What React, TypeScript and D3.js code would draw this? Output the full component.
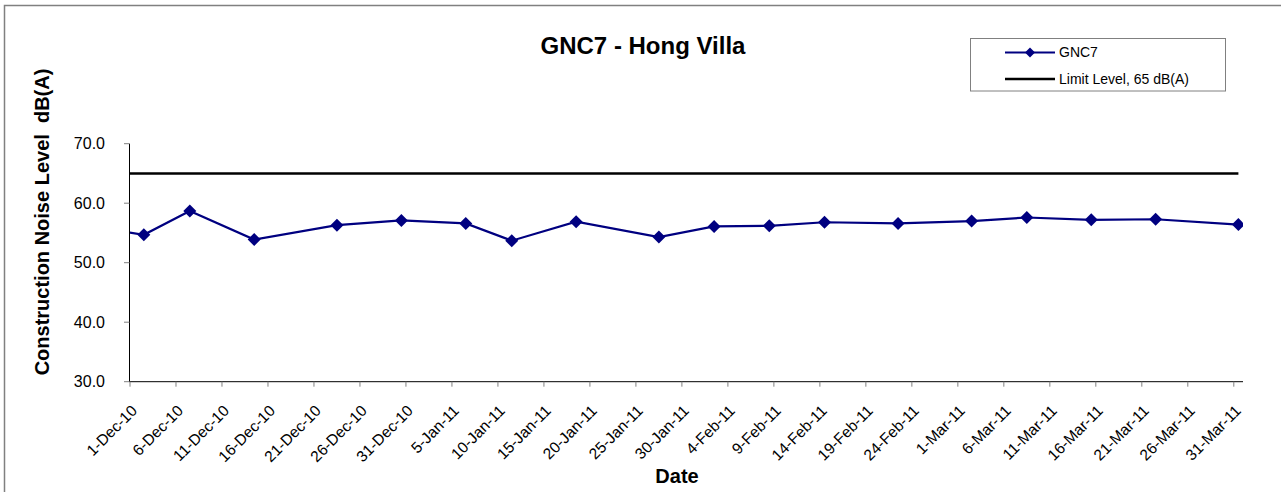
import React from "react";
import * as d3 from "d3";

const chartTitle = "GNC7 - Hong Villa";
const yAxisTitle = "Construction Noise Level  dB(A)";
const xAxisTitle = "Date";
const seriesName = "GNC7";
const limitName = "Limit Level, 65 dB(A)";
const limitValue = 65;

const dates = [
  "29-Nov-10", "2-Dec-10", "7-Dec-10", "14-Dec-10", "23-Dec-10", "30-Dec-10",
  "6-Jan-11", "11-Jan-11", "18-Jan-11", "27-Jan-11", "2-Feb-11", "8-Feb-11",
  "14-Feb-11", "22-Feb-11", "2-Mar-11", "8-Mar-11", "15-Mar-11", "22-Mar-11", "31-Mar-11",
];
const values = [
  55.4, 54.7, 58.7, 53.9, 56.3, 57.1,
  56.6, 53.7, 56.9, 54.3, 56.1, 56.2,
  56.8, 56.6, 57.0, 57.6, 57.2, 57.3, 56.4,
];

const xTickLabels = [
  "1-Dec-10", "6-Dec-10", "11-Dec-10", "16-Dec-10", "21-Dec-10", "26-Dec-10", "31-Dec-10",
  "5-Jan-11", "10-Jan-11", "15-Jan-11", "20-Jan-11", "25-Jan-11", "30-Jan-11",
  "4-Feb-11", "9-Feb-11", "14-Feb-11", "19-Feb-11", "24-Feb-11",
  "1-Mar-11", "6-Mar-11", "11-Mar-11", "16-Mar-11", "21-Mar-11", "26-Mar-11", "31-Mar-11",
];
const yTicks = [30, 40, 50, 60, 70];
const xDomain = ["1-Dec-10", "1-Apr-11"];
const yDomain = [30, 70];

const parse = d3.utcParse("%d-%b-%y");
const FONT = "Arial, 'Liberation Sans', sans-serif";

export default function App() {
  const W = 1281, H = 492;
  const left = 130, right = 1243, top = 143.7, bottom = 381.7;
  const x = d3.scaleUtc().domain(xDomain.map((d) => parse(d) as Date)).range([left, right]);
  const y = d3.scaleLinear().domain(yDomain).range([bottom, top]);
  const halfDay = 12 * 3600 * 1000;
  const pts = dates.map((d, i) => ({ t: new Date((parse(d) as Date).getTime() + halfDay), v: values[i] }));
  const line = d3.line<{ t: Date; v: number }>().x((d) => x(d.t)).y((d) => y(d.v));
  const navy = "#000080";
  const diamond = (cx: number, cy: number, r: number) =>
    `M${cx},${cy - r}L${cx + r},${cy}L${cx},${cy + r}L${cx - r},${cy}Z`;
  const limitStart = pts[0].t;
  const limitEnd = pts[pts.length - 1].t;

  return (
    <svg width={W} height={H} style={{ position: "absolute", left: 0, top: 0, background: "#fff" }}>
      <defs>
        <clipPath id="plot">
          <rect x={left} y={top - 10} width={right - left} height={bottom - top + 20} />
        </clipPath>
      </defs>
      <rect x={4.5} y={5.5} width={1300} height={520} fill="#fff" stroke="#808080" strokeWidth={1.5} />
      <text x={643} y={54} textAnchor="middle" fontFamily={FONT} fontWeight="bold" fontSize={24}>
        {chartTitle}
      </text>
      {/* y axis */}
      <line x1={left - 0.5} x2={left - 0.5} y1={top} y2={bottom} stroke="#000" strokeWidth={1} />
      {yTicks.map((t) => (
        <g key={t}>
          <line x1={left - 6} x2={left - 0.5} y1={y(t)} y2={y(t)} stroke="#808080" strokeWidth={1} />
          <text x={105} y={y(t)} dy="0.35em" textAnchor="end" fontFamily={FONT} fontSize={16}>
            {t.toFixed(1)}
          </text>
        </g>
      ))}
      {/* x axis */}
      <line x1={left - 0.5} x2={right} y1={bottom} y2={bottom} stroke="#000" strokeWidth={1} />
      {xTickLabels.map((lab) => {
        const tx = x(parse(lab) as Date);
        return (
          <g key={lab}>
            <line x1={tx} x2={tx} y1={bottom} y2={bottom + 5} stroke="#808080" strokeWidth={1} />
            <text
              transform={`translate(${tx + 8},${bottom + 30}) rotate(-45)`}
              textAnchor="end"
              fontFamily={FONT}
              fontSize={15.5}
            >
              {lab}
            </text>
          </g>
        );
      })}
      <text
        transform={`translate(49,222) rotate(-90)`}
        textAnchor="middle"
        fontFamily={FONT}
        fontWeight="bold"
        fontSize={20}
        style={{ whiteSpace: "pre" }}
      >
        {yAxisTitle}
      </text>
      <text x={677} y={483} textAnchor="middle" fontFamily={FONT} fontWeight="bold" fontSize={20}>
        {xAxisTitle}
      </text>
      <g clipPath="url(#plot)">
        <line
          x1={x(limitStart)}
          x2={x(limitEnd)}
          y1={y(limitValue)}
          y2={y(limitValue)}
          stroke="#000"
          strokeWidth={2.5}
        />
        <path d={line(pts) || ""} fill="none" stroke={navy} strokeWidth={2.2} />
        {pts.map((p, i) => (
          <path key={i} d={diamond(x(p.t), y(p.v), 6.5)} fill={navy} />
        ))}
      </g>
      {/* legend */}
      <rect x={970.5} y={38.5} width={255} height={52.5} fill="#fff" stroke="#808080" strokeWidth={1} />
      <line x1={1005} x2={1055} y1={52.5} y2={52.5} stroke={navy} strokeWidth={2.2} />
      <path d={diamond(1030, 52.5, 5)} fill={navy} />
      <text x={1059} y={52.5} dy="0.35em" fontFamily={FONT} fontSize={14}>
        {seriesName}
      </text>
      <line x1={1005} x2={1055} y1={79} y2={79} stroke="#000" strokeWidth={2.5} />
      <text x={1059} y={79} dy="0.35em" fontFamily={FONT} fontSize={14}>
        {limitName}
      </text>
    </svg>
  );
}
